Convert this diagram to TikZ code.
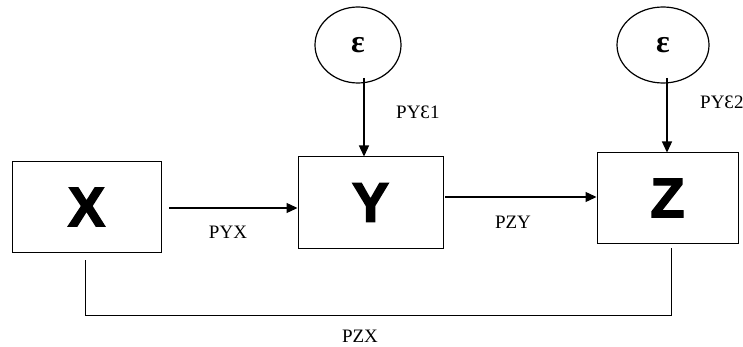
\documentclass[tikz,border=0pt]{standalone}
\usepackage{fontspec}
\setmainfont{Liberation Serif}
\newfontfamily\boxfont[BoldFeatures={FakeBold=2.5}]{Liberation Sans}
\usetikzlibrary{arrows.meta,shapes.geometric}
\begin{document}
\begin{tikzpicture}[x=1pt,y=-1pt,
  var/.style={draw,line width=1pt,minimum width=149pt,minimum height=90pt,inner sep=0pt,font=\boxfont\bfseries\fontsize{56}{56}\selectfont},
  err/.style={draw,ellipse,line width=1.2pt,minimum width=86pt,minimum height=76pt,inner sep=0pt,font=\bfseries\fontsize{32}{32}\selectfont},
  lab/.style={font=\fontsize{19}{19}\selectfont,inner sep=0pt},
  arr/.style={line width=1.3pt,-{Triangle[length=11pt,width=10pt]}},
  ln/.style={line width=1pt}]
\useasboundingbox (0,0) rectangle (743,347);
\node[var] (X) at (86.5,207) {X};
\node[var,minimum width=145pt,minimum height=91pt] (Y) at (370.5,202.5) {Y};
\node[var,minimum width=141pt] (Z) at (667.5,198) {Z};
\node[err] (E1) at (358,45) {ε};
\node[err,minimum width=92pt] (E2) at (663,45) {ε};
\coordinate (a1) at (169,208);
\coordinate (a2) at (445,197);
\coordinate (b1) at (364,78);
\coordinate (b2) at (667,78);
\coordinate (c1) at (85,260);
\coordinate (c2) at (671,248);
\draw[arr] (a1) -- (a1 -| Y.west);
\draw[arr] (a2) -- (a2 -| Z.west);
\draw[arr] (b1) -- (b1 |- Y.north);
\draw[arr] (b2) -- (b2 |- Z.north);
\draw[ln] (c1) -- (85,315) -- (671,315) -- (c2);
\node[lab] (l1) at (228,232) {PYX};
\node[lab] (l2) at (513,222) {PZY};
\node[lab] (l3) at (360,336) {PZX};
\node[lab,anchor=west] (l4) at (396,112) {PYƐ1};
\node[lab,anchor=west] (l5) at (700,102) {PYƐ2};
\end{tikzpicture}
\end{document}
